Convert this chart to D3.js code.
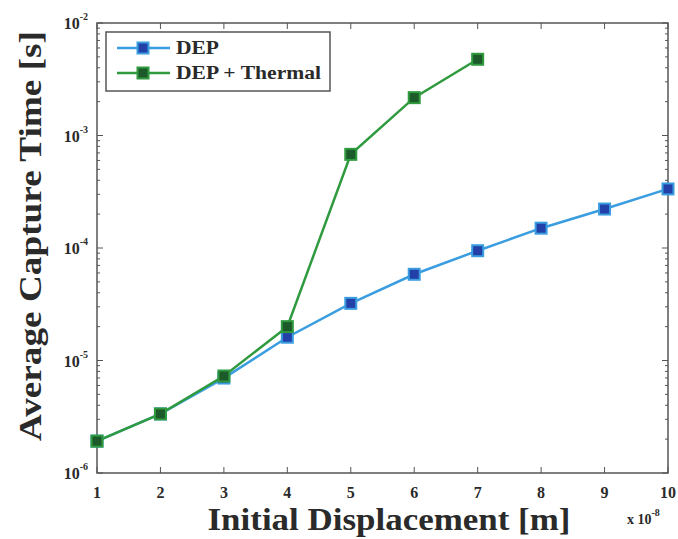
<!DOCTYPE html>
<html>
<head>
<meta charset="utf-8">
<script src="https://cdn.jsdelivr.net/npm/d3@7"></script>
<style>
  body { margin: 0; background: #fff; }
  text { font-family: "Liberation Serif", "DejaVu Serif", serif; fill: #2a2a2a; }
</style>
</head>
<body>
<div id="chart"></div>
<script>
// displacement in units of 1e-8 m
const displacement = [1, 2, 3, 4, 5, 6, 7, 8, 9, 10];
const depTime = [1.92e-6, 3.35e-6, 6.98e-6, 1.61e-5, 3.22e-5, 5.84e-5, 9.46e-5, 1.50e-4, 2.22e-4, 3.35e-4];
const depThermalX = [1, 2, 3, 4, 5, 6, 7];
const depThermalTime = [1.92e-6, 3.35e-6, 7.28e-6, 2.0e-5, 6.8e-4, 2.17e-3, 4.76e-3];
const seriesNames = ['DEP', 'DEP + Thermal'];
const yTickExp = [-6, -5, -4, -3, -2];

const W = 678, H = 539;
const pLeft = 97, pRight = 668, pTop = 23, pBottom = 473;

const x = d3.scaleLinear().domain([1, 10]).range([pLeft, pRight]);
const y = d3.scaleLog().domain([1e-6, 1e-2]).range([pBottom, pTop]);

const svg = d3.select('#chart').append('svg')
  .attr('width', W).attr('height', H);

const frameCol = '#555';
const blue = { line: '#3a9de0', fill: '#2340a8', edge: '#3a9de0' };
const green = { line: '#2f9a3e', fill: '#1c5a2a', edge: '#2f9a3e' };

// minor log ticks
const minor = [];
for (let e = -6; e < -2; e++) for (let m = 2; m <= 9; m++) minor.push(m * Math.pow(10, e));

const ticks = svg.append('g').attr('stroke', frameCol).attr('stroke-width', 1);
minor.forEach(v => {
  ticks.append('line').attr('x1', pLeft).attr('x2', pLeft + 3).attr('y1', y(v)).attr('y2', y(v));
  ticks.append('line').attr('x1', pRight).attr('x2', pRight - 3).attr('y1', y(v)).attr('y2', y(v));
});
yTickExp.forEach(e => {
  const v = Math.pow(10, e);
  ticks.append('line').attr('x1', pLeft).attr('x2', pLeft + 6).attr('y1', y(v)).attr('y2', y(v));
  ticks.append('line').attr('x1', pRight).attr('x2', pRight - 6).attr('y1', y(v)).attr('y2', y(v));
});
displacement.forEach(d => {
  ticks.append('line').attr('x1', x(d)).attr('x2', x(d)).attr('y1', pBottom).attr('y2', pBottom - 6);
  ticks.append('line').attr('x1', x(d)).attr('x2', x(d)).attr('y1', pTop).attr('y2', pTop + 6);
});

// frame
svg.append('rect')
  .attr('x', pLeft).attr('y', pTop)
  .attr('width', pRight - pLeft).attr('height', pBottom - pTop)
  .attr('fill', 'none').attr('stroke', frameCol).attr('stroke-width', 1.5);

// x tick labels
svg.append('g').selectAll('text')
  .data(displacement).enter().append('text')
  .attr('x', d => x(d)).attr('y', pBottom + 25)
  .attr('text-anchor', 'middle')
  .style('font-size', '16px').style('font-weight', 'bold')
  .text(d => d);

// y tick labels
const yl = svg.append('g');
yTickExp.forEach(e => {
  const t = yl.append('text')
    .attr('x', pLeft - 9).attr('y', y(Math.pow(10, e)) + 6)
    .attr('text-anchor', 'end')
    .style('font-size', '16px').style('font-weight', 'bold');
  t.append('tspan').text('10');
  t.append('tspan').attr('dy', -9).style('font-size', '10px').text(e);
});

// x multiplier
const mult = svg.append('text')
  .attr('x', 627).attr('y', 524)
  .style('font-size', '14px').style('font-weight', 'bold');
mult.append('tspan').text('x 10');
mult.append('tspan').attr('dy', -8).style('font-size', '10px').text('-8');

// axis titles
svg.append('text')
  .attr('x', 389).attr('y', 530)
  .attr('text-anchor', 'middle')
  .attr('textLength', 363).attr('lengthAdjust', 'spacingAndGlyphs')
  .style('font-size', '31px').style('font-weight', 'bold')
  .text('Initial Displacement [m]');

svg.append('text')
  .attr('transform', 'translate(41,236) rotate(-90)')
  .attr('text-anchor', 'middle')
  .attr('textLength', 410).attr('lengthAdjust', 'spacingAndGlyphs')
  .style('font-size', '31px').style('font-weight', 'bold')
  .text('Average Capture Time [s]');

// series
const line = d3.line().x(d => x(d[0])).y(d => y(d[1]));

function drawSeries(xs, ys, col) {
  const pts = xs.map((d, i) => [d, ys[i]]);
  svg.append('path').datum(pts)
    .attr('d', line)
    .attr('fill', 'none').attr('stroke', col.line).attr('stroke-width', 2.5);
  svg.append('g').selectAll('rect')
    .data(pts).enter().append('rect')
    .attr('x', d => x(d[0]) - 5.5).attr('y', d => y(d[1]) - 5.5)
    .attr('width', 11).attr('height', 11)
    .attr('fill', col.fill).attr('stroke', col.edge).attr('stroke-width', 2);
}

drawSeries(displacement, depTime, blue);
drawSeries(depThermalX, depThermalTime, green);

// legend
const legendWidths = [43, 145];
const lg = svg.append('g');
lg.append('rect')
  .attr('x', 106).attr('y', 32).attr('width', 224).attr('height', 59)
  .attr('fill', '#fff').attr('stroke', frameCol).attr('stroke-width', 1.5);
[blue, green].forEach((col, i) => {
  const ly = 48 + i * 25;
  lg.append('line').attr('x1', 117).attr('x2', 170).attr('y1', ly).attr('y2', ly)
    .attr('stroke', col.line).attr('stroke-width', 2.5);
  lg.append('rect').attr('x', 137.5).attr('y', ly - 5.5).attr('width', 11).attr('height', 11)
    .attr('fill', col.fill).attr('stroke', col.edge).attr('stroke-width', 2);
  lg.append('text').attr('x', 176).attr('y', ly + 6)
    .attr('textLength', legendWidths[i]).attr('lengthAdjust', 'spacingAndGlyphs')
    .style('font-size', '18px').style('font-weight', 'bold')
    .text(seriesNames[i]);
});
</script>
</body>
</html>
